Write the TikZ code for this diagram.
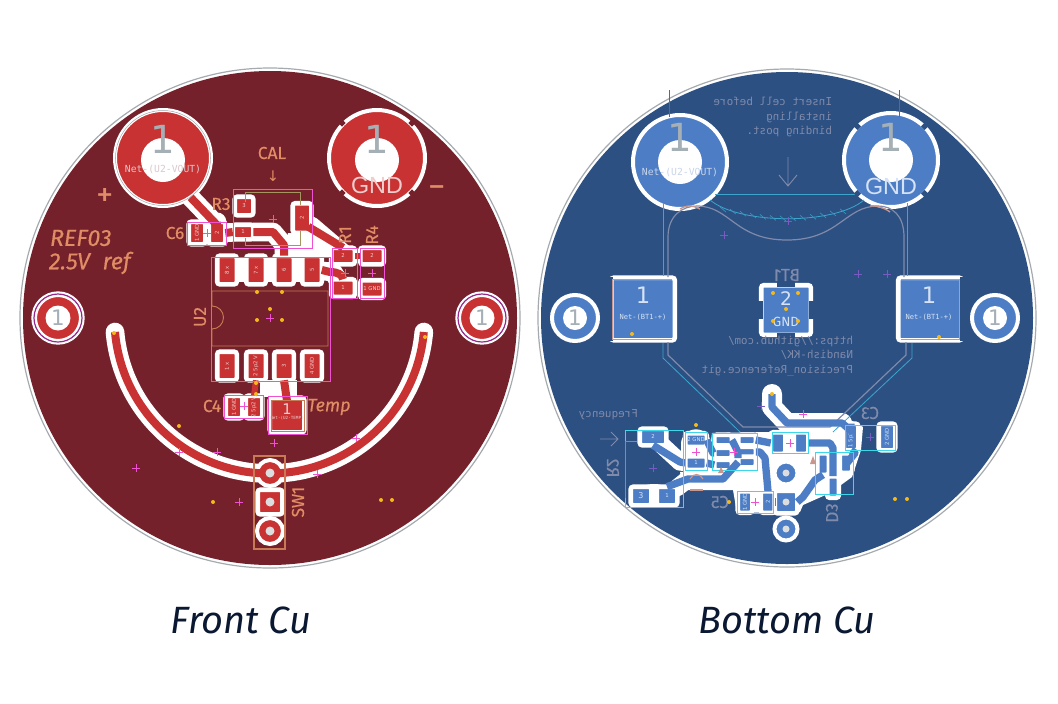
\documentclass[tikz,border=0pt]{standalone}
\usepackage{fontspec}
\setmainfont{Fira Sans}
\setmonofont{DejaVu Sans Mono}
\newfontfamily\padfont{DejaVu Sans}
\newfontfamily\gndfont{Liberation Sans}
\newfontfamily\silkfont[FakeBold=0.4]{Fira Sans}
\definecolor{frontboard}{RGB}{116, 33, 43}
\definecolor{frontcopper}{RGB}{200, 50, 50}
\definecolor{frontsilk}{RGB}{224, 140, 100}
\definecolor{frontline}{RGB}{200, 122, 84}
\definecolor{fronttext}{RGB}{240, 205, 205}
\definecolor{frontnet}{RGB}{218, 200, 205}
\definecolor{backboard}{RGB}{44, 80, 130}
\definecolor{backcopper}{RGB}{77, 126, 197}
\definecolor{backsilk}{RGB}{128, 138, 170}
\definecolor{backtext}{RGB}{214, 226, 245}
\definecolor{backnet}{RGB}{200, 212, 235}
\definecolor{edgegrey}{RGB}{165, 170, 175}
\definecolor{numgrey}{RGB}{165, 175, 182}
\definecolor{courtpink}{RGB}{240, 80, 210}
\definecolor{courtcyan}{RGB}{60, 215, 235}
\definecolor{batcyan}{RGB}{60, 165, 205}
\definecolor{viayellow}{RGB}{245, 185, 25}
\definecolor{olivesilk}{RGB}{165, 150, 95}
\definecolor{brownsilk}{RGB}{200, 150, 140}
\definecolor{ringpurple}{RGB}{150, 40, 140}
\definecolor{plusdim}{RGB}{120, 90, 195}
\definecolor{captionink}{RGB}{10, 24, 50}
\usetikzlibrary{positioning,calc,backgrounds}
\newcommand{\vlab}[1]{\rotatebox{90}{#1}}
\begin{document}
\begin{tikzpicture}[
    x=0.75pt, y=-0.75pt,
    every node/.style={inner sep=0pt, outer sep=0pt},
    frontpad/.style 2 args={rectangle, rounded corners=1.8pt, fill=frontcopper, draw=white, line width=3.4pt, text=fronttext, font=\padfont\fontsize{4}{4}\selectfont, minimum width=#1*.75pt+3.4pt, minimum height=#2*.75pt+3.4pt},
    backpad/.style 2 args={rectangle, rounded corners=1.8pt, fill=backcopper, draw=white, line width=3.4pt, text=backtext, font=\padfont\fontsize{4}{4}\selectfont, minimum width=#1*.75pt+3.4pt, minimum height=#2*.75pt+3.4pt},
    frontround/.style={circle, fill=frontcopper, draw=white, line width=3pt, minimum size=#1*.75pt+3pt},
    backround/.style={circle, fill=backcopper, draw=white, line width=3pt, minimum size=#1*.75pt+3pt},
    frontclear/.style={draw=white, line width=14pt, line cap=round, line join=round},
    backclear/.style={draw=white, line width=13pt, line cap=round, line join=round},
    fronttrack/.style={draw=frontcopper, line width=6pt, line join=round},
    backtrack/.style={draw=backcopper, line width=5.5pt, line join=round},
    fsilk/.style={text=frontsilk, font=\silkfont\fontsize{13}{14}\selectfont},
    bsilk/.style={text=backsilk, font=\ttfamily\fontsize{8.2}{10.6}\selectfont, align=left, xscale=-1, transform shape},
    bname/.style={bsilk, font=\silkfont\fontsize{13}{14}\selectfont},
    numlabel/.style={text=numgrey, font=\padfont\fontsize{#1}{#1}\selectfont},
    netfront/.style={text=frontnet, font=\ttfamily\fontsize{7.3}{8}\selectfont},
    netback/.style={text=backnet, font=\ttfamily\fontsize{7.3}{8}\selectfont},
    caption/.style={text=captionink, font=\itshape\fontsize{28.5}{32}\selectfont},
    hole/.style={fill=white},
    court/.style={draw=courtpink, line width=0.5pt},
    backcourt/.style={draw=courtcyan, line width=0.7pt},
    crossmark/.style={line width=0.55pt}
]
    \useasboundingbox (0,0) rectangle (1058,704);

    % Front board
    \begin{pgfonlayer}{background}
        \draw[edgegrey, line width=0.9pt] (270,318) circle[radius=250];
        \fill[frontboard] (270,318) circle[radius=247];
        \draw[edgegrey, line width=0.9pt] (787,318) circle[radius=249];
        \fill[backboard] (787,318) circle[radius=246];
    \end{pgfonlayer}

    % Front pads
    \node[frontround=92] (vout) at (163,158) {};
    \node[frontround=92] (gndf) at (377,158) {};
    \node[frontround=42] (mhl) at (58,318) {};
    \node[frontround=42] (mhr) at (482,318) {};
    \node[frontpad={15}{24}] (u8) at (227,270) {\vlab{8 x}};
    \node[frontpad={15}{24}] (u7) at (256,270) {\vlab{7 x}};
    \node[frontpad={15}{24}] (u6) at (284,270) {\vlab{6}};
    \node[frontpad={15}{24}] (u5) at (312,270) {\vlab{5}};
    \node[frontpad={15}{24}] (u1) at (227,366) {\vlab{1 x}};
    \node[frontpad={15}{24}] (u2) at (256,366) {\vlab{2 5p2 V}};
    \node[frontpad={15}{24}] (u3) at (284,366) {\vlab{3}};
    \node[frontpad={15}{24}] (u4) at (312,366) {\vlab{4 GND}};
    \node[frontpad={14}{14}] (r3c) at (244,206) {3};
    \node[frontpad={16}{10}] (r3a) at (243,232) {1};
    \node[frontpad={14}{25}] (r3b) at (302,218) {\vlab{2}};
    \node[frontpad={12}{18}] (c6a) at (197,233) {\vlab{1 GND}};
    \node[frontpad={12}{18}] (c6b) at (217,233) {\vlab{2}};
    \node[frontpad={19}{12}] (r1b) at (343,256) {2};
    \node[frontpad={19}{13}] (r1a) at (343,288) {1};
    \node[frontpad={19}{12}] (r4b) at (372,256) {2};
    \node[frontpad={19}{13}] (r4a) at (372,289) {1 GND};
    \node[frontpad={12}{18}] (c4a) at (234,407) {\vlab{1 GND}};
    \node[frontpad={12}{18}] (c4b) at (254,407) {\vlab{2 5p2 V}};
    \node[frontpad={30}{30}] (temp) at (287,415) {};
    \node[frontround=22] (sw1a) at (270,473) {};
    \node[frontpad={20}{20}] (sw1b) at (270,502) {};
    \node[frontround=22] (sw1c) at (270,531) {};

    % Front clearance
    \begin{pgfonlayer}{background}
        \fill[white] (288,233) -- (313,233) -- (333,257) -- (287,257) -- cycle;
        \fill[white] (260,380) rectangle (297,397);
        \fill[white] (222,258) rectangle (318,282);
        \draw[frontclear] (vout.-55) -- (217,225) -- (c6b.north);
        \draw[frontclear] (c6b) -- (r3a) -- (273,232) -- (284,245) -- (u6);
        \draw[frontclear] (r3b) -- (343,253);
        \draw[frontclear] (u5) -- (333,272) -- (r1a);
        \draw[frontclear] (115,332) arc[start angle=175, end angle=5, radius=155];
    \end{pgfonlayer}

    % Front tracks
    \draw[fronttrack] (vout.-55) -- (217,225) -- (c6b.north);
    \draw[fronttrack] (c6b.east) -- (r3a.west);
    \draw[fronttrack] (r3a.east) -- (273,232) -- (284,245) -- (u6.north);
    \draw[fronttrack] ($(r3b.south east)+(-3,-6)$) -- (r1b.north);
    \draw[fronttrack, line width=4pt] (r1b.east) -- (r4b.west);
    \draw[fronttrack] (u5.east) -- (330,272) .. controls (338,272) and (343,275) .. (r1a.north);
    \draw[fronttrack, line width=4.5pt] (u2.south) -- (c4b.north);
    \draw[fronttrack] (u3.south) -- (287,401);
    \draw[fronttrack] (115,332) arc[start angle=175, end angle=5, radius=155];

    % Front holes and pad numbers
    \fill[hole] (vout) ++(0,2) circle[radius=22];
    \fill[hole] (gndf) ++(0,2) circle[radius=22];
    \foreach \n in {mhl,mhr} {
        \draw[white, line width=4pt] (\n) circle[radius=24];
        \draw[ringpurple, line width=0.9pt] (\n) circle[radius=24];
        \fill[hole] (\n) circle[radius=12.5];
    }
    \foreach \a in {45,135,225,315}
        \draw[frontboard, line width=3.8pt] ($(gndf)+(\a:47)$) -- ($(gndf)+(\a:52)$);
    \draw[edgegrey, line width=0.4pt] (vout) circle[radius=47.5];
    \node[numlabel=29] (voutnum) at (163,139) {1};
    \node[numlabel=29] (gndnum) at (377,139) {1};
    \node[numlabel=16] (mhlnum) at (58,318) {1};
    \node[numlabel=16] (mhrnum) at (482,318) {1};
    \node[netfront] (voutnet) at (163,169) {Net-(U2-VOUT)};
    \node[text=fronttext, font=\gndfont\fontsize{17.5}{20}\selectfont] (gndname) at (377,185) {GND};
    \node[text=fronttext, font=\padfont\fontsize{11}{11}\selectfont] (tempnum) at (287,409) {1};
    \node[text=fronttext, font=\ttfamily\fontsize{3.2}{4}\selectfont] (tempnet) at (287,418) {Net-(U2-TEMP)};
    \foreach \n in {sw1a,sw1b,sw1c}
        \fill[edgegrey!40] (\n) circle[radius=4.5];

    % Front outlines
    \draw[frontline, line width=0.7pt] (212,291) -- (328,291) -- (328,346) -- (212,346) -- (212,329) arc[start angle=90, end angle=-90, radius=11.5] -- cycle;
    \draw[frontline, line width=0.9pt] (254,456) rectangle (285,549);
    \draw[olivesilk, line width=0.7pt] (245,202) -- (245,192) -- (300,192) -- (300,205);
    \draw[olivesilk, line width=0.7pt] (245,238) -- (245,245) -- (300,245) -- (300,231);
    \draw[frontline, line width=0.7pt] (271,400) rectangle (304,431);
    \draw[court] (211,257) rectangle (330,381);
    \draw[court] (233,189) rectangle (312,248);
    \draw[court] (187,222) rectangle (226,245);
    \draw[court] (332,248) rectangle (357,298);
    \draw[court] (360,248) rectangle (384,298);
    \draw[court] (224,395) rectangle (263,418);
    \draw[court] (268,396) rectangle (307,434);

    % Front silk text
    \node[fsilk, anchor=west, font=\silkfont\itshape\fontsize{17.5}{18}\selectfont] (refname) at (50,238) {REF03};
    \node[fsilk, anchor=west, font=\silkfont\itshape\fontsize{17.5}{18}\selectfont] (refvolt) at (49,263) {2.5V\hspace{5pt} ref};
    \node[text=frontsilk, font=\fontsize{26}{26}\selectfont] (plusmark) at (105,197) {+};
    \node[text=frontsilk, font=\fontsize{26}{26}\selectfont] (minusmark) at (437,192) {−};
    \node[fsilk] (calname) at (272,153) {CAL};
    \node[text=frontsilk, font=\padfont\fontsize{11}{11}\selectfont] (calarrow) at (273,176) {↓};
    \node[fsilk] (r3name) at (221,204) {R3};
    \node[fsilk] (c6name) at (175,233) {C6};
    \node[fsilk, rotate=90] (r1name) at (345,235) {R1};
    \node[fsilk, rotate=90] (r4name) at (372,235) {R4};
    \node[fsilk, rotate=90] (u2name) at (200,317) {U2};
    \node[fsilk] (c4name) at (212,406) {C4};
    \node[fsilk, font=\silkfont\itshape\fontsize{13.5}{14}\selectfont] (tempname) at (329,407) {Temp};
    \node[fsilk, rotate=90] (sw1name) at (298,502) {SW1};

    \foreach \x/\y in {114/333,425/337,257/292,282/292,270/309,257/320,282/320,256/383,256/394,179/426,213/502,381/500,392/500}
        \fill[viayellow] (\x,\y) circle[radius=2];
    \foreach \x/\y in {273/219,207/233,345/273,372/273,270/318,244/406,179/452,217/452,136/468,274/443,356/438,317/474,239/502}
        \draw[courtpink, crossmark] (\x,\y) ++(-4,0) -- ++(8,0) ++(-4,-4) -- ++(0,8);

    % Bottom pads
    \node[backround=90] (voutb) at (680,162) {};
    \node[backround=90] (gndb) at (891,160) {};
    \node[backround=42] (mhlb) at (575,318) {};
    \node[backround=42] (mhrb) at (995,318) {};
    \node[backpad={59}{58}] (btl) at (643,309) {};
    \node[backpad={59}{58}] (btr) at (930,309) {};
    \node[backpad={45}{45}] (btm) at (786,310) {};
    \node[backpad={22}{12}] (r2b) at (653,437) {2};
    \node[backpad={16}{14}] (r2c) at (641,496) {\padfont\fontsize{6}{6}\selectfont 3};
    \node[backpad={16}{14}] (r2a) at (667,496) {1};
    \node[backpad={17}{9}] (c7b) at (696,440) {2 GND};
    \node[backpad={17}{9}] (c7a) at (696,463) {1};
    \node[backpad={13}{6}] (ua) at (723,440) {};
    \node[backpad={13}{6}] (ub) at (723,453) {};
    \node[backpad={13}{6}] (uc) at (723,465) {};
    \node[backpad={13}{6}] (ud) at (747,440) {};
    \node[backpad={13}{6}] (ue) at (747,452) {};
    \node[backpad={13}{6}] (uf) at (747,462) {};
    \node[backpad={10}{17}] (c2b) at (778,443) {};
    \node[backpad={10}{17}] (c2a) at (801,443) {};
    \node[backpad={10}{22}] (c3b) at (851,437) {\vlab{1 5p2 V}};
    \node[backpad={12}{22}] (c3a) at (887,437) {\vlab{2 GND}};
    \node[backpad={7}{17}] (d3a) at (823,464) {};
    \node[backpad={8}{15}] (d3b) at (846,463) {};
    \node[backpad={7}{17}] (d3c) at (833,487) {};
    \node[backpad={10}{17}] (c5a) at (745,502) {\vlab{1 GND}};
    \node[backpad={10}{17}] (c5b) at (768,502) {\vlab{2}};
    \node[backround=19] (swa) at (786,473) {};
    \node[backpad={18}{18}] (swb) at (786,502) {};
    \node[backround=19] (swc) at (786,529) {};
    \coordinate (trackstart) at (772,394);

    % Bottom clearance
    \begin{pgfonlayer}{background}
        \fill[white] (712,433) -- (770,432) -- (833,430) -- (847,418) -- (863,427) -- (861,450) -- (852,477) -- (830,493) -- (803,505) -- (800,512) -- (737,513) -- (733,490) -- (683,490) -- (680,472) -- (708,470) -- cycle;
        \draw[backclear, line width=15pt] (trackstart) -- (772,407) -- (787,423) -- (842,423);
        \draw[backclear] (r2b) -- (680,462) -- (c7a);
        \draw[backclear] (r2a) -- (688,479) -- (723,479);
        \draw[backclear, line width=18pt] (r2c) -- (r2a);
        \draw[white, line width=22pt, line cap=round] (696,444) -- (696,459);
    \end{pgfonlayer}

    % Bottom battery holder
    \draw[backsilk, line width=0.9pt] (668,277) -- (668,237) .. controls (668,215) and (683,206) .. (697,206) .. controls (730,206) and (735,240) .. (787,240) .. controls (839,240) and (845,206) .. (878,206) .. controls (892,206) and (904,215) .. (904,237) -- (904,277);
    \draw[backsilk, line width=0.9pt] (668,342) -- (668,355) -- (743,427) -- (830,427) -- (906,355) -- (906,342);
    \draw[batcyan, line width=0.6pt] (663,276) -- (663,203) (715,194) -- (860,194) (907,203) -- (907,276);
    \draw[batcyan, line width=0.6pt] (663,343) -- (663,358) -- (740,432) (833,432) -- (912,358) -- (912,343);
    \draw[batcyan, line width=0.6pt] (710,200) .. controls (740,225) and (835,225) .. (864,200);
    \foreach \i in {0,...,12}
        \draw[batcyan!80!backboard, line width=0.5pt] ({726+10*\i},{212+9*sin(14*\i)}) -- ++(-6,-5);
    \fill[backboard] (607,277) rectangle (612.5,341);
    \draw[brownsilk, line width=0.9pt] (672,279.5) -- (612.5,279.5) -- (612.5,339.5) -- (672,339.5);
    \fill[backboard] (960,277) rectangle (965,341);
    \draw[brownsilk, line width=0.9pt] (901,279.5) -- (959.5,279.5) -- (959.5,339.5) -- (901,339.5);
    \draw[brownsilk, line width=1pt] (700,209) .. controls (690,204) and (685,206) .. (680,209);
    \draw[brownsilk, line width=1pt] (870,206) .. controls (875,205) and (885,208) .. (890,212);
    \draw[backsilk!45!backboard, line width=0.5pt] (669,90) -- (669,117) (899,90) -- (899,117);

    % Bottom tracks
    \draw[backtrack] (trackstart) -- (772,407) -- (787,423) -- (842,423) -- (851,431) -- (c3b.north);
    \draw[backtrack] (c3b.south) -- (855,453) -- (847,463);
    \draw[backtrack] (r2b.south) -- (680,462) -- (c7a.west);
    \draw[backtrack] (c7a.east) -- (uc.west);
    \draw[backtrack] (c7b.east) -- (713,453) -- (ub.west);
    \draw[backtrack] (r2a.north) -- (688,479) -- (723,479) -- (uf.west);
    \draw[backtrack] (ue.east) -- (760,452) -- (765,458) -- (c5b.north);
    \draw[backtrack] (ud.east) -- (c2b.west);
    \draw[backtrack] (c2a.east) -- (830,443) -- (833,448) -- (d3c.north);
    \draw[backtrack] (swb.east) -- (803,497) -- (815,480) -- (d3a.south);
    \draw[backtrack] (ua.east) -- (733,442) -- (738,452) -- (738,458);
    \draw[backtrack] (c5b.east) -- (swb.west);

    % Bottom holes and pad numbers
    \fill[hole] (voutb) circle[radius=22];
    \fill[hole] (gndb) circle[radius=22];
    \fill[hole] (mhlb) circle[radius=12];
    \fill[hole] (mhrb) circle[radius=12];
    \foreach \a in {45,135,225,315}
        \draw[backboard, line width=3.8pt] ($(gndb)+(\a:45)$) -- ($(gndb)+(\a:50)$);
    \foreach \n/\ax/\ay in {btm/0/-1,btm/0/1,btm/-1/0,btm/1/0}
        \draw[backboard, line width=13pt] ($(\n)+(\ax*23,\ay*23)$) -- ($(\n)+(\ax*29,\ay*29)$);
    \node[numlabel=29] (voutbnum) at (680,137) {1};
    \node[numlabel=29] (gndbnum) at (891,137) {1};
    \node[numlabel=16] (mhlbnum) at (575,318) {1};
    \node[numlabel=16] (mhrbnum) at (995,318) {1};
    \node[netback] (voutbnet) at (680,172) {Net-(U2-VOUT)};
    \node[text=backtext, font=\gndfont\fontsize{17.5}{20}\selectfont] (gndbname) at (891,186) {GND};
    \node[text=backtext, font=\padfont\fontsize{17}{17}\selectfont] (btlnum) at (643,295) {1};
    \node[text=backtext, font=\ttfamily\fontsize{5.3}{6}\selectfont] (btlnet) at (643,317) {Net-(BT1-+)};
    \node[text=backtext, font=\padfont\fontsize{17}{17}\selectfont] (btrnum) at (929,295) {1};
    \node[text=backtext, font=\ttfamily\fontsize{5.3}{6}\selectfont] (btrnet) at (929,317) {Net-(BT1-+)};
    \node[text=backtext, font=\padfont\fontsize{14}{14}\selectfont] (btmnum) at (786,299) {2};
    \node[text=backtext, font=\fontsize{10}{10}\selectfont] (btmnet) at (786,322) {GND};
    \foreach \n in {swa,swb,swc}
        \fill[edgegrey!40] (\n) circle[radius=3.5];

    % Bottom outlines
    \draw[backcourt] (625,430) rectangle (683,507);
    \draw[backcourt] (685,432) rectangle (707,470);
    \draw[backcourt] (712,433) rectangle (757,470);
    \draw[backcourt] (772,432) rectangle (808,453);
    \draw[backcourt] (845,425) rectangle (895,450);
    \draw[backcourt] (815,452) rectangle (853,494);
    \draw[backcourt] (737,491) rectangle (773,513);
    \draw[backsilk, line width=0.7pt] (637,441) -- (625,441) -- (625,498);
    \fill[brownsilk] (718,473) -- (724,473) -- (721,467) -- cycle;
    \fill[brownsilk] (810,464) -- (816,464) -- (813,456) -- cycle;
    \draw[brownsilk, line width=0.9pt] (690,479) .. controls (693,473) and (700,473) .. (703,479);
    \draw[brownsilk, line width=0.9pt] (690,490) -- (703,490);

    % Bottom silk text
    \node[bsilk, anchor=west] (noteone) at (832,117) {Insert cell before\\installing\\binding post.};
    \node[bsilk, anchor=west] (notetwo) at (853,356) {https://github.com/\\Nandish-KK/\\Precision\_Reference.git};
    \node[bsilk, anchor=west] (freqname) at (638,415) {Frequency};
    \draw[backsilk, line width=0.7pt] (788,157) -- (788,186) (779,175) -- (788,186) -- (797,175);
    \draw[backsilk, line width=0.7pt] (600,439) -- (618,439) (611,432) -- (618,439) -- (611,446);
    \node[bname, rotate=90] (r2name) at (613,468) {R2};
    \node[bname] (bt1name) at (787,275) {BT1};
    \node[bname] (c3name) at (870,413) {C3};
    \node[bname] (c5name) at (720,502) {C5};
    \node[bname, rotate=90] (d3name) at (832,513) {D3};

    \foreach \x/\y in {632/334,939/337,773/293,798/293,786/309,773/321,798/321,772/394,696/425,729/502,895/499,907/499}
        \fill[viayellow] (\x,\y) circle[radius=2];
    \foreach \x/\y in {788/221,724/235,858/274,887/274,653/468,761/406,870/437}
        \draw[plusdim, crossmark] (\x,\y) ++(-4,0) -- ++(8,0) ++(-4,-4) -- ++(0,8);
    \foreach \x/\y in {696/452,790/443,755/502,803/414,734/452}
        \draw[courtpink, crossmark] (\x,\y) ++(-4,0) -- ++(8,0) ++(-4,-4) -- ++(0,8);

    % Captions
    \node[caption] (frontcap) at (241,620) {Front Cu};
    \node[caption] (backcap) at (787,620) {Bottom Cu};
\end{tikzpicture}
\end{document}
